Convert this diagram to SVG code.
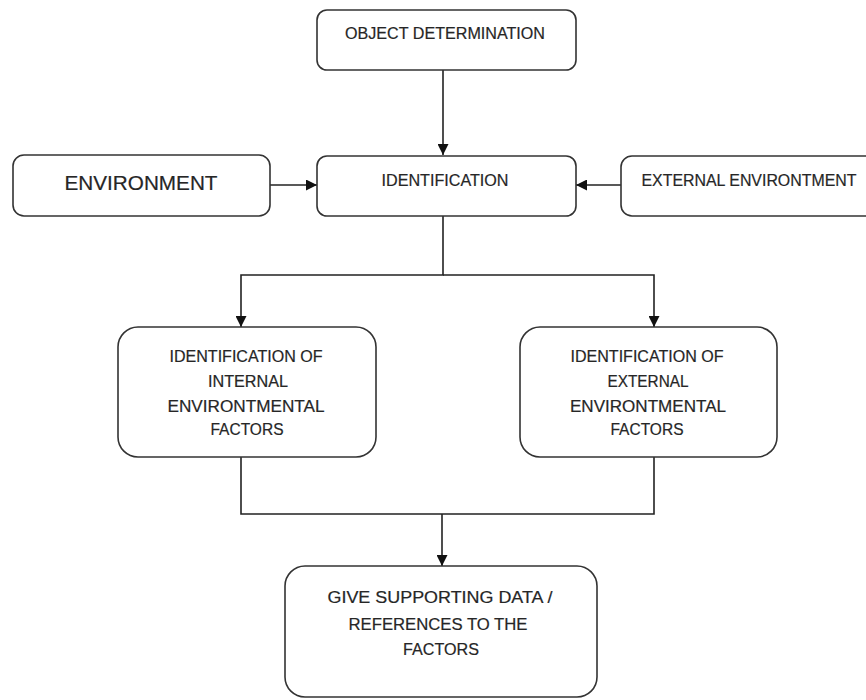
<svg xmlns="http://www.w3.org/2000/svg" width="866" height="700" viewBox="0 0 866 700">
<defs>
<marker id="ah" viewBox="0 0 10 10" refX="10" refY="5" markerWidth="11" markerHeight="11" markerUnits="userSpaceOnUse" orient="auto">
<path d="M0,0 L10,5 L0,10 z" fill="#111"/>
</marker>
<style>
.box{fill:#fff;stroke:#333;stroke-width:1.6}
.t{font-family:"Liberation Sans",Arial,sans-serif;font-size:16.5px;fill:#262626;stroke:#262626;stroke-width:0.2;text-anchor:middle}
.c{fill:none;stroke:#222;stroke-width:1.6}
</style>
</defs>
<rect width="866" height="700" fill="#fff"/>
<g id="connectors">
<path class="c" d="M443,70 V155" marker-end="url(#ah)"/>
<path class="c" d="M270,185 H317" marker-end="url(#ah)"/>
<path class="c" d="M621,185 H576" marker-end="url(#ah)"/>
<path class="c" d="M443,216 V275 H241 V327" marker-end="url(#ah)"/>
<path class="c" d="M443,275 H654 V327" marker-end="url(#ah)"/>
<path class="c" d="M241,457 V514 H654 V457"/>
<path class="c" d="M442,514 V566" marker-end="url(#ah)"/>
</g>
<g id="object">
<rect class="box" x="317" y="10" width="259" height="60" rx="10"/>
<text class="t" x="445" y="39" textLength="200" lengthAdjust="spacingAndGlyphs">OBJECT DETERMINATION</text>
</g>
<g id="identification">
<rect class="box" x="317" y="156" width="259" height="60" rx="10"/>
<text class="t" x="445" y="186" textLength="127" lengthAdjust="spacingAndGlyphs">IDENTIFICATION</text>
</g>
<g id="environment">
<rect class="box" x="13" y="155" width="257" height="61" rx="11"/>
<text class="t" x="141" y="190" style="font-size:21px" textLength="153" lengthAdjust="spacingAndGlyphs">ENVIRONMENT</text>
</g>
<g id="external">
<rect class="box" x="621" y="156" width="260" height="60" rx="11"/>
<text class="t" x="749" y="186" textLength="215" lengthAdjust="spacingAndGlyphs">EXTERNAL ENVIRONTMENT</text>
</g>
<g id="internal-factors">
<rect class="box" x="118" y="327" width="258" height="130" rx="20"/>
<text class="t" x="246" y="362" textLength="153" lengthAdjust="spacingAndGlyphs">IDENTIFICATION OF</text>
<text class="t" x="248" y="387" textLength="80" lengthAdjust="spacingAndGlyphs">INTERNAL</text>
<text class="t" x="246" y="412" textLength="157" lengthAdjust="spacingAndGlyphs">ENVIRONTMENTAL</text>
<text class="t" x="247" y="435" textLength="73" lengthAdjust="spacingAndGlyphs">FACTORS</text>
</g>
<g id="external-factors">
<rect class="box" x="520" y="327" width="257" height="130" rx="20"/>
<text class="t" x="647" y="362" textLength="153" lengthAdjust="spacingAndGlyphs">IDENTIFICATION OF</text>
<text class="t" x="648" y="387" textLength="81" lengthAdjust="spacingAndGlyphs">EXTERNAL</text>
<text class="t" x="648" y="412" textLength="156" lengthAdjust="spacingAndGlyphs">ENVIRONTMENTAL</text>
<text class="t" x="647" y="435" textLength="73" lengthAdjust="spacingAndGlyphs">FACTORS</text>
</g>
<g id="supporting">
<rect class="box" x="285" y="566" width="312" height="131" rx="20"/>
<text class="t" x="440" y="603" textLength="225" lengthAdjust="spacingAndGlyphs">GIVE SUPPORTING  DATA /</text>
<text class="t" x="438" y="630" textLength="179" lengthAdjust="spacingAndGlyphs">REFERENCES  TO THE</text>
<text class="t" x="441" y="655" textLength="76" lengthAdjust="spacingAndGlyphs">FACTORS</text>
</g>
</svg>
